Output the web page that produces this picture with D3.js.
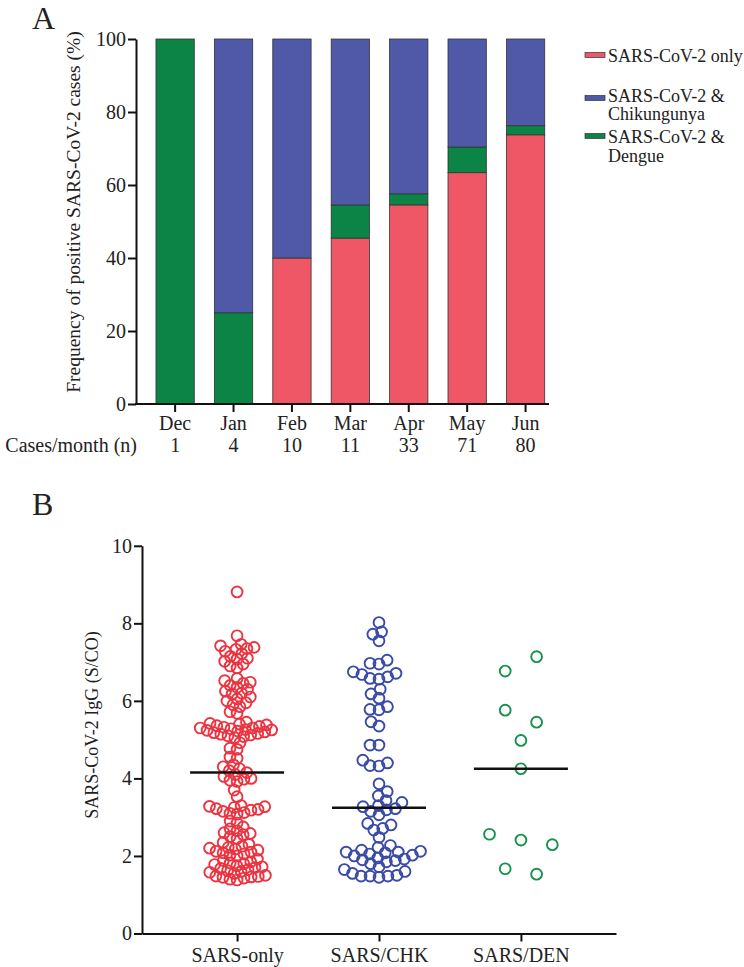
<!DOCTYPE html>
<html><head><meta charset="utf-8">
<script src="https://cdn.jsdelivr.net/npm/d3@7"></script>
<style>body{margin:0;background:#fff}svg{display:block}text{font-family:"Liberation Serif","Times New Roman",serif;fill:#222}</style>
</head><body><div id="c"></div>
<script>
// ---------- Panel A data ----------
const months = ["Dec","Jan","Feb","Mar","Apr","May","Jun"];
const casesPerMonth = [1,4,10,11,33,71,80];
const pctOnly   = [0,0,40,45.45,54.55,63.38,73.75];
const pctDengue = [100,25,0,9.09,3.03,7.04,2.5];
const pctChik   = [0,75,60,45.45,42.42,29.58,23.75];
const seriesNames = ["SARS-CoV-2 only","SARS-CoV-2 & Chikungunya","SARS-CoV-2 & Dengue"];
const yTicksA = [0,20,40,60,80,100];

// ---------- Panel B data ----------
const groups = ["SARS-only","SARS/CHK","SARS/DEN"];
const sarsOnly = [8.81,7.68,
 7.46,7.42,7.38,7.35,7.33,7.28,7.22,7.15,7.10,7.08,7.02,6.95,6.90,6.85,
 6.58,6.52,6.48,6.45,6.40,6.35,6.30,6.25,6.20,6.18,6.10,6.05,6.00,5.95,5.90,5.85,5.72,5.68,
 5.45,5.42,5.40,5.38,5.36,5.34,5.32,5.30,5.30,5.28,5.26,5.25,5.24,5.22,5.20,5.18,5.16,5.14,5.12,5.10,5.08,5.05,
 4.92,4.78,4.75,4.55,4.52,4.35,4.30,4.25,4.20,4.15,
 4.10,4.05,4.00,3.98,3.95,3.92,3.70,3.53,
 3.30,3.28,3.27,3.25,3.22,3.20,3.18,3.15,3.12,3.10,3.08,
 2.90,2.85,2.75,2.70,2.65,2.60,2.58,2.55,2.50,2.45,
 2.35,2.30,2.25,2.22,2.20,2.18,2.15,2.12,2.10,2.08,2.05,2.02,2.00,
 1.92,1.88,1.85,1.82,1.80,1.78,1.75,1.72,1.70,1.68,1.65,1.62,1.60,1.58,1.55,
 1.50,1.48,1.47,1.46,1.45,1.43,1.40,1.38];
const sarsChk = [8.02,7.78,7.72,7.55,
 7.05,6.97,6.95,6.75,6.71,6.68,6.62,6.58,6.56,
 6.30,6.18,6.07,5.85,5.78,5.77,5.46,5.35,4.86,4.86,
 4.47,4.40,4.33,4.32,3.86,3.66,3.55,3.43,3.38,3.30,3.27,
 3.22,3.19,3.15,3.06,2.84,2.80,2.71,2.67,2.48,
 2.27,2.22,2.15,2.12,2.10,2.10,2.08,2.05,
 2.02,2.00,1.95,1.92,1.90,1.88,1.85,1.80,
 1.72,1.65,1.60,1.55,1.50,1.48,1.48,1.48,1.45];
const sarsDen = [6.77,7.14,5.76,5.45,4.98,4.25,2.56,2.41,2.29,1.67,1.53];
const yTicksB = [0,2,4,6,8,10];

// ---------- drawing ----------
const svg = d3.select("#c").append("svg").attr("width",744).attr("height",967);
const cRed="#EF5767", cBlue="#5059A8", cGreen="#0B8446";
const FF = "Liberation Serif, Times New Roman, serif";

// Panel A
svg.append("text").attr("x",32).attr("y",29).attr("font-size",32).text("A");
const yA = d3.scaleLinear().domain([0,100]).range([404,39]);
const xA = d3.scaleBand().domain(months).range([136,564.7]).paddingInner(0.344).paddingOuter(0.342);
const rows = months.map((m,i)=>({month:m,only:pctOnly[i],dengue:pctDengue[i],chik:pctChik[i]}));
const stack = d3.stack().keys(["only","dengue","chik"])(rows);
const colA = {only:cRed,dengue:cGreen,chik:cBlue};
svg.append("g").selectAll("g").data(stack).join("g").attr("fill",d=>colA[d.key])
  .selectAll("rect").data(d=>d.filter(s=>s[1]-s[0]>0)).join("rect")
  .attr("x",d=>xA(d.data.month)).attr("width",xA.bandwidth())
  .attr("y",d=>yA(d[1])).attr("height",d=>yA(d[0])-yA(d[1]))
  .attr("stroke","#333").attr("stroke-width",0.8);

const gyA = svg.append("g").attr("transform","translate(136,0)")
  .call(d3.axisLeft(yA).tickValues(yTicksA).tickSize(8).tickPadding(2).tickSizeOuter(0));
const gxA = svg.append("g").attr("transform","translate(0,404)")
  .call(d3.axisBottom(xA).tickSize(8).tickPadding(5).tickSizeOuter(0));
gxA.select(".domain").remove();
gxA.append("line").attr("x1",135).attr("x2",549).attr("stroke","#111").attr("stroke-width",2);
[gyA,gxA].forEach(g=>{
  g.selectAll(".domain").attr("stroke","#111").attr("stroke-width",2);
  g.selectAll(".tick line").attr("stroke","#111").attr("stroke-width",2);
  g.selectAll("text").attr("font-size",20).attr("font-family",FF).attr("fill","#222");
});
gxA.selectAll(".tick text").attr("dy",null).attr("y",26);
svg.append("g").selectAll("text").data(casesPerMonth).join("text")
  .attr("x",(d,i)=>xA(months[i])+xA.bandwidth()/2).attr("y",452)
  .attr("text-anchor","middle").attr("font-size",20).text(d=>d);
svg.append("text").attr("x",137).attr("y",452).attr("text-anchor","end").attr("font-size",20).text("Cases/month (n)");
svg.append("text").attr("transform","translate(80,212) rotate(-90)").attr("text-anchor","middle")
  .attr("font-size",19.5).text("Frequency of positive SARS-CoV-2 cases (%)");

// legend
const legColors=[cRed,cBlue,cGreen];
const legLines=[["SARS-CoV-2 only"],["SARS-CoV-2 &","Chikungunya"],["SARS-CoV-2 &","Dengue"]];
const legSw=[55,98,136];
const legBase=[61.5,101.5,143];
seriesNames.forEach((n,i)=>{
  const g=svg.append("g");
  g.append("rect").attr("x",585).attr("y",legSw[i]-2.5).attr("width",20).attr("height",5)
    .attr("fill",legColors[i]).attr("stroke","#333").attr("stroke-width",0.7);
  legLines[i].forEach((t,j)=>g.append("text").attr("x",608).attr("y",legBase[i]+j*18.5)
     .attr("font-size",18).text(t));
});

// Panel B
svg.append("text").attr("x",32).attr("y",515).attr("font-size",32).text("B");
const yB = d3.scaleLinear().domain([0,10]).range([933.5,545.8]);
const xB = d3.scalePoint().domain(groups).range([142,616]).padding(0.67);
const gyB = svg.append("g").attr("transform","translate(142,0)")
  .call(d3.axisLeft(yB).tickValues(yTicksB).tickSize(8).tickPadding(2).tickSizeOuter(0));
const gxB = svg.append("g").attr("transform","translate(0,933.5)")
  .call(d3.axisBottom(xB).tickSize(8).tickPadding(5).tickSizeOuter(0));
[gyB,gxB].forEach(g=>{
  g.selectAll(".domain").attr("stroke","#111").attr("stroke-width",2);
  g.selectAll(".tick line").attr("stroke","#111").attr("stroke-width",2);
  g.selectAll("text").attr("font-size",20).attr("font-family",FF).attr("fill","#222");
});
gxB.selectAll(".tick text").attr("dy",null).attr("y",28);
svg.append("text").attr("transform","translate(98,725) rotate(-90)").attr("text-anchor","middle")
  .attr("font-size",18).text("SARS-CoV-2 IgG (S/CO)");

// beeswarm placement computed from values
function swarm(values, d){
  const pts = values.map(v=>({v,y:yB(v)})).sort((a,b)=>b.y-a.y);
  const placed=[];
  pts.forEach(p=>{
    const ivs=[];
    placed.forEach(q=>{const dy=Math.abs(q.y-p.y); if(dy<d){const w=Math.sqrt(d*d-dy*dy); ivs.push([q.dx-w,q.dx+w]);}});
    const cands=[0]; ivs.forEach(iv=>{cands.push(iv[0],iv[1]);});
    cands.sort((a,b)=>Math.abs(a)-Math.abs(b));
    for(const c of cands){ if(ivs.every(iv=>c<=iv[0]+1e-6||c>=iv[1]-1e-6)){p.dx=c;break;} }
    placed.push(p);
  });
  return placed;
}
// row layout (points of similar value share a row, spread evenly, in data order)
function rowLayout(values, rowH, s){
  const out=[]; let row=[];
  const flush=()=>{row.forEach((p,i)=>{p.dx=(i-(row.length-1)/2)*s; out.push(p);}); row=[];};
  values.forEach(v=>{
    const p={v,y:yB(v)};
    if(row.length && Math.abs(p.y-row[0].y)>rowH) flush();
    row.push(p);
  });
  flush();
  return out;
}
const groupData=[[sarsOnly,"#EC3340",v=>swarm(v,7.2)],[sarsChk,"#3A4AA6",v=>swarm(v,9)],[sarsDen,"#16924D",v=>rowLayout(v,15.5,31.4)]];
groupData.forEach(([vals,col,layout],gi)=>{
  const cx = xB(groups[gi]);
  svg.append("g").selectAll("circle").data(layout(vals)).join("circle")
    .attr("cx",p=>cx+p.dx).attr("cy",p=>p.y).attr("r",5.4)
    .attr("fill","none").attr("stroke",col).attr("stroke-width",1.9);
  const med=d3.median(vals);
  svg.append("line").attr("x1",cx-47).attr("x2",cx+47).attr("y1",yB(med)).attr("y2",yB(med))
    .attr("stroke","#111").attr("stroke-width",2.5);
});
</script></body></html>
